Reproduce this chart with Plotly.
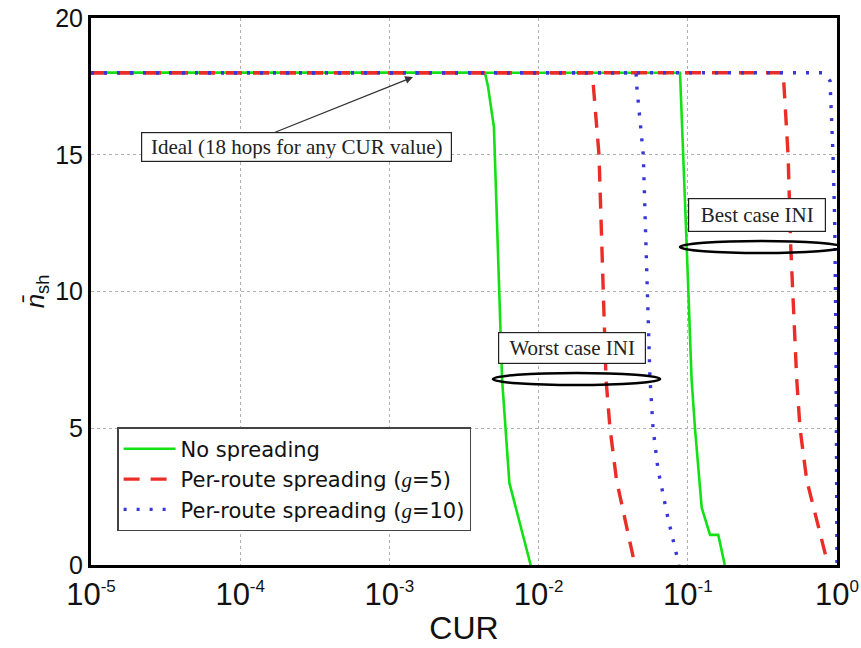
import math
import plotly.graph_objects as go

# ---------------- data ----------------
no_spread_worst_x = [1e-5, 4.37e-3, 4.58e-3, 5.02e-3, 5.69e-3, 6.37e-3, 8.85e-3]
no_spread_worst_y = [18, 18, 17.5, 16, 6.8, 3.0, 0]

no_spread_best_x = [1e-5, 0.0887, 0.0984, 0.106, 0.1117, 0.1239, 0.141, 0.160, 0.177]
no_spread_best_y = [18, 18, 11.6, 6.8, 5.0, 2.1, 1.1, 1.1, 0]

g5_worst_x = [1e-5, 0.0227, 0.0233, 0.0246, 0.0254, 0.0283, 0.0301, 0.0333, 0.0442]
g5_worst_y = [18, 18, 17.5, 16, 15, 6.8, 5.0, 3.1, 0]

g5_best_x = [1e-5, 0.436, 0.470, 0.490, 0.537, 0.565, 0.627, 0.871]
g5_best_y = [18, 18, 15, 11.6, 6.8, 5.0, 3.1, 0]

g10_worst_x = [1e-5, 0.0450, 0.0455, 0.0503, 0.0558, 0.0585, 0.0631, 0.0737, 0.0873]
g10_worst_y = [18, 18, 17.5, 15, 6.8, 5.0, 3.5, 1.7, 0]

g10_best_x = [1e-5, 0.806, 0.898, 0.940, 0.965, 0.985, 1.0]
g10_best_y = [18, 18, 17.7, 15, 12.6, 8, 0]

x_tick_vals = [1e-5, 1e-4, 1e-3, 1e-2, 1e-1, 1]
x_tick_exps = ["-5", "-4", "-3", "-2", "-1", "0"]
y_tick_vals = [0, 5, 10, 15, 20]

legend_names = [
    "No spreading",
    "Per-route spreading (<span style=\"font-family:'Liberation Serif'\"><i>g</i></span>=5)",
    "Per-route spreading (<span style=\"font-family:'Liberation Serif'\"><i>g</i></span>=10)",
]

# ---------------- styles ----------------
GREEN = "rgb(20,225,20)"
RED = "rgb(235,45,40)"
BLUE = "rgb(55,55,215)"

fig = go.Figure()

line_green = dict(color=GREEN, width=2.6)
line_red = dict(color=RED, width=3.4, dash="16px,11px")
line_blue = dict(color=BLUE, width=3.4, dash="3px,10px")

fig.add_trace(go.Scatter(x=no_spread_worst_x, y=no_spread_worst_y, mode="lines",
                         line=line_green, name=legend_names[0], legendgroup="a"))
fig.add_trace(go.Scatter(x=no_spread_best_x, y=no_spread_best_y, mode="lines",
                         line=line_green, name=legend_names[0], legendgroup="a", showlegend=False))
fig.add_trace(go.Scatter(x=g5_worst_x, y=g5_worst_y, mode="lines",
                         line=line_red, name=legend_names[1], legendgroup="b"))
fig.add_trace(go.Scatter(x=g5_best_x, y=g5_best_y, mode="lines",
                         line=line_red, name=legend_names[1], legendgroup="b", showlegend=False))
fig.add_trace(go.Scatter(x=g10_worst_x, y=g10_worst_y, mode="lines",
                         line=line_blue, name=legend_names[2], legendgroup="c"))
fig.add_trace(go.Scatter(x=g10_best_x, y=g10_best_y, mode="lines",
                         line=line_blue, name=legend_names[2], legendgroup="c", showlegend=False))

x_tick_text = ["10<sup><span style='font-size:17px'>%s</span></sup>" % e for e in x_tick_exps]

fig.update_xaxes(
    type="log", range=[-5, 0], automargin=False, ticklabeloverflow="allow",
    tickvals=x_tick_vals, ticktext=x_tick_text,
    tickfont=dict(family="Liberation Sans", size=31, color="#111"),
    showgrid=True, gridcolor="#b0b0b0", griddash="dot", gridwidth=1,
    showline=True, linecolor="black", linewidth=3, mirror=True,
    ticks="", zeroline=False,
    title=dict(text="CUR", font=dict(family="Liberation Sans", size=32, color="#111"), standoff=6),
)
fig.update_yaxes(
    range=[0, 20], tickvals=y_tick_vals, automargin=False, ticklabeloverflow="allow",
    tickfont=dict(family="Liberation Sans", size=25, color="#111"),
    showgrid=True, gridcolor="#b0b0b0", griddash="dot", gridwidth=1,
    showline=True, linecolor="black", linewidth=3, mirror=True,
    ticks="", zeroline=False,
    title=dict(text="<i>n\u0304</i><sub>sh</sub>", font=dict(family="Liberation Sans", size=26, color="#111"), standoff=4),
)

serif = dict(family="Liberation Serif", size=21, color="#222")
box = dict(bgcolor="white", bordercolor="#222", borderwidth=1.2, borderpad=3, showarrow=False,
           xref="x", yref="y", font=serif)

fig.add_annotation(text="Ideal (18 hops for any CUR value)", x=-3.623, y=15.27, width=303, height=22, **box)
fig.add_annotation(text="Worst case INI", x=-1.773, y=7.95, width=140, height=24, **box)
fig.add_annotation(text="Best case INI", x=-0.533, y=12.80, width=130, height=26, **box)

# arrow pointing at the ideal line
fig.add_annotation(text="", x=-2.842, y=17.84, xref="x", yref="y", showarrow=True,
                   ax=-140, ay=56, arrowhead=2, arrowsize=1.2, arrowwidth=1.3, arrowcolor="#333",
                   standoff=0, startstandoff=0)

# ellipses
fig.add_shape(type="circle", xref="x", yref="y", x0=4.94e-3, x1=0.0652, y0=6.58, y1=7.02,
              line=dict(color="black", width=2.5))
fig.add_shape(type="circle", xref="x", yref="y", x0=0.0887, x1=1.08, y0=11.41, y1=11.85,
              line=dict(color="black", width=2.5))

fig.update_layout(
    width=861, height=648,
    margin=dict(l=91, r=24, t=18, b=83, autoexpand=False),
    paper_bgcolor="white", plot_bgcolor="white",
    showlegend=True,
    legend=dict(x=0.035, y=0.252, xanchor="left", yanchor="top",
                bgcolor="white", bordercolor="#444", borderwidth=1.5,
                font=dict(family="DejaVu Sans", size=21, color="#111"),
                tracegroupgap=0, itemwidth=52),
)

# remove the default page margin so the figure fills the window exactly
fig.write_html("out.html", config={"displayModeBar": False},
               post_script="document.body.style.margin='0';document.body.style.overflow='hidden';")
